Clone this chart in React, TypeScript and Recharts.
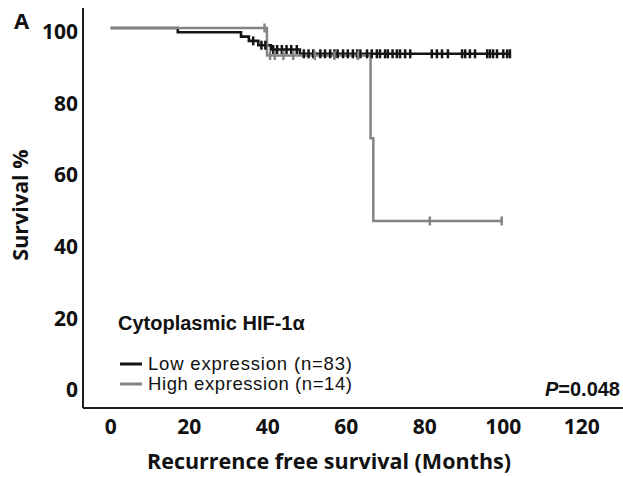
import React from "react";
import { ComposedChart, Line, Scatter, XAxis, YAxis } from "recharts";

// Kaplan–Meier curves: step times (months) and survival (%) after each step
const lowTimes = [0, 17.1, 33.2, 35.2, 37.6, 40.8, 48.2, 101.7];
const lowSurvival = [100, 98.8, 97.6, 96.4, 95.2, 94.0, 92.8, 92.8];
const lowCensored = [
  36.3, 38.4, 39.4, 41.4, 42.4, 43.6, 44.8, 46.0, 47.4, 49.2, 50.4, 51.6, 53.4, 54.6,
  55.9, 57.0, 57.8, 59.2, 60.4, 61.7, 62.8, 63.6, 65.3, 66.5, 67.8, 68.6, 69.9, 70.6,
  71.8, 72.9, 73.7, 75.0, 76.3, 81.8, 83.1, 84.4, 85.9, 89.5, 90.3, 91.5, 92.8, 95.9,
  96.6, 97.4, 98.4, 100.0, 101.0, 101.7,
];

const highTimes = [0, 39.8, 66.2, 66.9, 99.6];
const highSurvival = [100, 92.3, 69.2, 46.15, 46.15];
const highCensored = [39.2, 40.6, 41.8, 44.0, 46.5, 52.0, 57.0, 63.0, 81.3, 99.6];

const xTicks = [0, 20, 40, 60, 80, 100, 120];
const yTicks = [0, 20, 40, 60, 80, 100];

const LOW_COLOR = "#141414";
const HIGH_COLOR = "#848484";
const AXIS_COLOR = "#1e1e1e";
const TICK_FONT = "'Open Sans', sans-serif";
const LEGEND_FONT = "'Liberation Sans', Arial, sans-serif";

const toPoints = (times: number[], surv: number[]) =>
  times.map((t, i) => ({ t, s: surv[i] }));

// survival level of a step curve at time t (used to sit censor ticks on the curve)
const levelAt = (times: number[], surv: number[], t: number) => {
  let s = surv[0];
  for (let i = 0; i < times.length; i++) if (times[i] <= t) s = surv[i];
  return s;
};

const toCensor = (times: number[], surv: number[], cens: number[]) =>
  cens.map((t) => ({ t, s: levelAt(times, surv, t) }));

const lowCurve = toPoints(lowTimes, lowSurvival);
const highCurve = toPoints(highTimes, highSurvival);
const lowMarks = toCensor(lowTimes, lowSurvival, lowCensored);
const highMarks = toCensor(highTimes, highSurvival, highCensored);

const censorTick = (color: string) => (props: any) => {
  const { cx, cy } = props;
  return (
    <line x1={cx} x2={cx} y1={cy - 4.5} y2={cy + 4.5} stroke={color} strokeWidth={2.5} />
  );
};

const YTick = (props: any) => (
  <text
    x={props.x}
    y={props.y}
    dy={11}
    textAnchor="end"
    fontFamily={TICK_FONT}
    fontWeight={700}
    fontSize={21}
    fill="#111"
  >
    {props.payload.value}
  </text>
);

const XTick = (props: any) => (
  <text
    x={props.x}
    y={props.y}
    dy={18}
    textAnchor="middle"
    fontFamily={TICK_FONT}
    fontWeight={700}
    fontSize={21}
    fill="#111"
  >
    {props.payload.value}
  </text>
);

export default function App() {
  return (
    <div style={{ position: "absolute", left: 0, top: 0, width: 623, height: 477, background: "#fff" }}>
      <ComposedChart
        width={623}
        height={477}
        margin={{ top: 8, right: 0, bottom: 0, left: 0 }}
      >
        <XAxis
          dataKey="t"
          type="number"
          domain={[-7.05, 130.5]}
          allowDataOverflow
          ticks={xTicks}
          height={69}
          axisLine={{ stroke: AXIS_COLOR, strokeWidth: 2 }}
          tickLine={false}
          tickSize={6}
          tickMargin={2}
          tick={<XTick />}
        />
        <YAxis
          dataKey="s"
          type="number"
          domain={[-6.05, 105.58]}
          allowDataOverflow
          ticks={yTicks}
          width={83}
          axisLine={{ stroke: AXIS_COLOR, strokeWidth: 2 }}
          tickLine={false}
          tickSize={5}
          tickMargin={0}
          tick={<YTick />}
        />
        <Line
          data={lowCurve}
          dataKey="s"
          type="stepAfter"
          stroke={LOW_COLOR}
          strokeWidth={2.6}
          dot={false}
          activeDot={false}
          isAnimationActive={false}
        />
        <Scatter
          data={lowMarks}
          dataKey="s"
          shape={censorTick(LOW_COLOR)}
          isAnimationActive={false}
        />
        <Line
          data={highCurve}
          dataKey="s"
          type="stepAfter"
          stroke={HIGH_COLOR}
          strokeWidth={2.5}
          dot={false}
          activeDot={false}
          isAnimationActive={false}
        />
        <Scatter
          data={highMarks}
          dataKey="s"
          shape={censorTick(HIGH_COLOR)}
          isAnimationActive={false}
        />
      </ComposedChart>

      {/* panel letter, axis titles, legend and p-value */}
      <svg
        width={623}
        height={477}
        style={{ position: "absolute", left: 0, top: 0, pointerEvents: "none" }}
      >
        <text x={14} y={29} fontFamily={TICK_FONT} fontWeight={700} fontSize={22} fill="#111">
          A
        </text>
        <text
          x={0}
          y={0}
          transform="translate(19,205) rotate(-90)"
          textAnchor="middle"
          dominantBaseline="central"
          fontFamily={TICK_FONT}
          fontWeight={700}
          fontSize={21.5}
          fill="#111"
        >
          Survival %
        </text>
        <text
          x={329}
          y={469}
          textAnchor="middle"
          fontFamily={TICK_FONT}
          fontWeight={700}
          fontSize={21.5}
          fill="#111"
        >
          Recurrence free survival (Months)
        </text>

        <text x={118} y={330} fontFamily={LEGEND_FONT} fontWeight={700} fontSize={20} fill="#111">
          Cytoplasmic HIF-1α
        </text>
        <line x1={120} x2={142} y1={364} y2={364} stroke={LOW_COLOR} strokeWidth={3} />
        <text x={148} y={369.5} fontFamily={LEGEND_FONT} fontSize={18.5} textLength={204} fill="#111">
          Low expression (n=83)
        </text>
        <line x1={120} x2={142} y1={384} y2={384} stroke={HIGH_COLOR} strokeWidth={3} />
        <text x={148} y={390} fontFamily={LEGEND_FONT} fontSize={18.5} textLength={204} fill="#111">
          High expression (n=14)
        </text>

        <text
          x={620}
          y={396}
          textAnchor="end"
          fontFamily={LEGEND_FONT}
          fontWeight={700}
          fontSize={20}
          fill="#111"
        >
          <tspan fontStyle="italic">P</tspan>=0.048
        </text>
      </svg>
    </div>
  );
}
